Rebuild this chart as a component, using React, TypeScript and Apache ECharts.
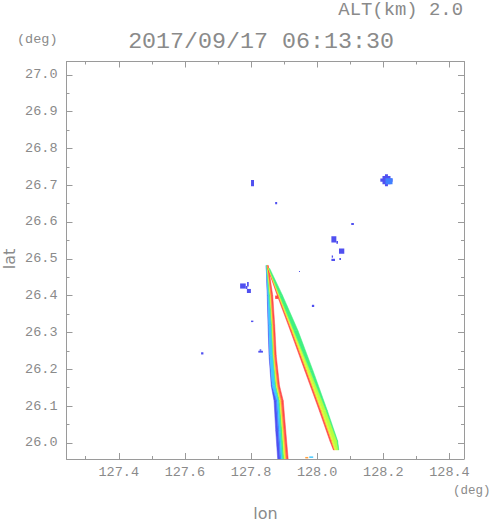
import React, { useEffect, useRef } from "react";
import * as echarts from "echarts";

// ---- axes ----
const lonRange = [127.242, 128.444];
const latRange = [25.956, 27.036];
const lonTicks = [127.4, 127.6, 127.8, 128.0, 128.2, 128.4];
const lonMinorTicks = [127.3, 127.5, 127.7, 127.9, 128.1, 128.3];
const latTicks = [26.0, 26.1, 26.2, 26.3, 26.4, 26.5, 26.6, 26.7, 26.8, 26.9, 27.0];
const latMinorTicks = [26.05, 26.15, 26.25, 26.35, 26.45, 26.55, 26.65, 26.75, 26.85, 26.95];

// ---- texts ----
const titleText = "2017/09/17 06:13:30";
const altText = "ALT(km) 2.0";
const unitText = "(deg)";
const xName = "lon";
const yName = "lat";

// ---- echo colours (weak -> strong) ----
const echoColors = ["#5050f0", "#4080ff", "#40c8ff", "#40f080", "#e8fc30", "#ffa040", "#ff4848", "#b8ff40"];

// ---- left streak: latitude levels and colour-band edges (lon) ----
// bands: blue, light blue, cyan, green, yellow, orange, red
const leftBandColors = [0, 1, 2, 3, 4, 5, 6];
const leftLats = [26.482, 26.4, 26.319, 26.237, 26.155, 26.114, 26.033, 25.953];
const leftEdges = [
  [127.8459, 127.8459, 127.8459, 127.8469, 127.8484, 127.8496, 127.8508, 127.852],
  [127.849, 127.8505, 127.8505, 127.8544, 127.8575, 127.8596, 127.8617, 127.8656],
  [127.8514, 127.8535, 127.8535, 127.8611, 127.8635, 127.8656, 127.8681, 127.8717],
  [127.8544, 127.8565, 127.8565, 127.8656, 127.8678, 127.8696, 127.8726, 127.8762],
  [127.8611, 127.8641, 127.8641, 127.8732, 127.8762, 127.8793, 127.8823, 127.8862],
  [127.8696, 127.876, 127.8793, 127.8838, 127.8868, 127.8899, 127.8929, 127.8975],
  [127.8747, 127.882, 127.8853, 127.8899, 127.8944, 127.8975, 127.9005, 127.905],
  [127.8808, 127.888, 127.8914, 127.8959, 127.9005, 127.905, 127.9081, 127.9126],
];

// ---- right streak ----
// bands: red, orange, yellow, yellow-green, green
const rightBandColors = [6, 5, 4, 7, 3];
const rightLats = [26.4739, 26.4003, 26.3049, 26.1959, 26.087, 26.0052, 25.9807];
const rightEdges = [
  [127.8505, 127.852, 127.8529, 127.8538, 127.8544, 127.8565],
  [127.8793, 127.8823, 127.8838, 127.8859, 127.8868, 127.8955],
  [127.9187, 127.9226, 127.9247, 127.9278, 127.9293, 127.942],
  [127.9626, 127.9672, 127.9696, 127.9732, 127.979, 127.9875],
  [128.0065, 128.0111, 128.0135, 128.0172, 128.027, 128.031],
  [128.0384, 128.0429, 128.0453, 128.049, 128.06, 128.062],
  [128.049, 128.052, 128.0535, 128.0566, 128.064, 128.0655],
];

// ---- isolated echo cells: [lonMin, lonMax, latMin, latMax, colourIndex] ----
const echoCells = [
  [127.8, 127.809, 26.697, 26.714, 0],
  [127.873, 127.879, 26.648, 26.654, 0],
  [127.945, 127.948, 26.464, 26.467, 0],
  [127.767, 127.784, 26.419, 26.433, 0],
  [127.784, 127.789, 26.418, 26.426, 0],
  [127.7875, 127.7996, 26.407, 26.418, 0],
  [127.788, 127.793, 26.425, 26.437, 0],
  [127.984, 127.991, 26.369, 26.375, 0],
  [127.8, 127.807, 26.328, 26.332, 0],
  [127.649, 127.656, 26.24, 26.246, 0],
  [127.822, 127.836, 26.245, 26.25, 0],
  [127.826, 127.831, 26.25, 26.254, 0],
  [128.1975, 128.2217, 26.7028, 26.7246, 0],
  [128.205, 128.214, 26.697, 26.73, 0],
  [128.191, 128.228, 26.7096, 26.7178, 0],
  [128.2065, 128.2278, 26.7028, 26.7191, 1],
  [128.103, 128.111, 26.592, 26.597, 0],
  [128.043, 128.058, 26.544, 26.561, 0],
  [128.058, 128.063, 26.541, 26.548, 0],
  [128.066, 128.082, 26.514, 26.528, 0],
  [128.044, 128.048, 26.503, 26.509, 0],
  [128.043, 128.054, 26.494, 26.5, 0],
  [128.067, 128.072, 26.497, 26.502, 0],
  [127.873, 127.882, 26.391, 26.4, 6],
  [127.964, 127.973, 25.9575, 25.9616, 5],
  [127.976, 127.988, 25.959, 25.963, 2],
];

const streaks = [
  { lats: leftLats, edges: leftEdges, colors: leftBandColors },
  { lats: rightLats, edges: rightEdges, colors: rightBandColors },
];

export default function App() {
  const ref = useRef<HTMLDivElement>(null);

  useEffect(() => {
    if (!ref.current) return;
    const chart = echarts.init(ref.current, undefined, { renderer: "svg" });
    const axisColor = "#9a9a9a";
    const textColor = "#8a8a8a";
    const mono = '"Liberation Mono", "DejaVu Sans Mono", monospace';

    const labelStyle = {
      color: textColor,
      fontFamily: mono,
      fontSize: 13.5,
    };

    const makeX = (pos: string, values: number[], len: number, labels: boolean, line: boolean) => ({
      type: "value",
      position: pos,
      min: lonRange[0],
      max: lonRange[1],
      axisLine: { show: line, onZero: false, lineStyle: { color: axisColor, width: 1 } },
      axisTick: { show: true, inside: true, length: len, customValues: values, lineStyle: { color: axisColor, width: 1 } },
      axisLabel: labels
        ? { show: true, customValues: values, formatter: (v: number) => v.toFixed(1), margin: 6, ...labelStyle }
        : { show: false },
      splitLine: { show: false },
    });
    const makeY = (pos: string, values: number[], len: number, labels: boolean, line: boolean) => ({
      type: "value",
      position: pos,
      min: latRange[0],
      max: latRange[1],
      axisLine: { show: line, onZero: false, lineStyle: { color: axisColor, width: 1 } },
      axisTick: { show: true, inside: true, length: len, customValues: values, lineStyle: { color: axisColor, width: 1 } },
      axisLabel: labels
        ? { show: true, customValues: values, formatter: (v: number) => v.toFixed(1), margin: 9, ...labelStyle }
        : { show: false },
      splitLine: { show: false },
    });

    const bandItems: number[][] = [];
    streaks.forEach((s, si) => {
      for (let i = 0; i < s.edges.length - 1; i++) {
        for (let j = 0; j < s.colors.length; j++) {
          const w0 = s.edges[i][j + 1] - s.edges[i][j];
          const w1 = s.edges[i + 1][j + 1] - s.edges[i + 1][j];
          if (w0 > 1e-7 || w1 > 1e-7) bandItems.push([si, i, j]);
        }
      }
    });

    chart.setOption({
      animation: false,
      backgroundColor: "#ffffff",
      grid: { left: 66.5, top: 61.5, right: 27, bottom: 62, containLabel: false },
      xAxis: [
        makeX("bottom", lonTicks, 6, true, true),
        makeX("bottom", lonMinorTicks, 3, false, false),
        makeX("top", lonTicks, 6, false, true),
        makeX("top", lonMinorTicks, 3, false, false),
      ],
      yAxis: [
        makeY("left", latTicks, 6, true, true),
        makeY("left", latMinorTicks, 3, false, false),
        makeY("right", latTicks, 6, false, true),
        makeY("right", latMinorTicks, 3, false, false),
      ],
      series: [
        {
          type: "custom",
          name: "streaks",
          coordinateSystem: "cartesian2d",
          xAxisIndex: 0,
          yAxisIndex: 0,
          clip: true,
          silent: true,
          data: bandItems,
          renderItem: (params: any, api: any) => {
            const s = streaks[api.value(0)];
            const i = api.value(1);
            const j = api.value(2);
            const pts = [
              [s.edges[i][j], s.lats[i]],
              [s.edges[i][j + 1], s.lats[i]],
              [s.edges[i + 1][j + 1], s.lats[i + 1]],
              [s.edges[i + 1][j], s.lats[i + 1]],
            ].map((p) => api.coord(p));
            const c = echoColors[s.colors[j]];
            return {
              type: "polygon",
              shape: { points: pts },
              style: { fill: c, stroke: c, lineWidth: 0.5 },
            };
          },
        },
        {
          type: "custom",
          name: "cells",
          coordinateSystem: "cartesian2d",
          xAxisIndex: 0,
          yAxisIndex: 0,
          clip: true,
          silent: true,
          encode: { x: [0, 1], y: [2, 3] },
          data: echoCells,
          renderItem: (params: any, api: any) => {
            const p0 = api.coord([api.value(0), api.value(3)]);
            const p1 = api.coord([api.value(1), api.value(2)]);
            const c = echoColors[api.value(4)];
            return {
              type: "rect",
              shape: { x: p0[0], y: p0[1], width: p1[0] - p0[0], height: p1[1] - p0[1] },
              style: { fill: c },
            };
          },
        },
      ],
      graphic: [
        {
          type: "text",
          x: 261,
          y: 42,
          scaleX: 1.06,
          style: { text: titleText, font: `22px ${mono}`, fill: textColor, align: "center", verticalAlign: "middle", textAlign: "center", textVerticalAlign: "middle" },
        },
        {
          type: "text",
          x: 463,
          y: 11,
          scaleX: 1.05,
          style: { text: altText, font: `18px ${mono}`, fill: textColor, align: "right", verticalAlign: "middle", textAlign: "right", textVerticalAlign: "middle" },
        },
        {
          type: "text",
          x: 17,
          y: 39,
          style: { text: unitText, font: `13.5px ${mono}`, fill: textColor, align: "left", verticalAlign: "middle", textAlign: "left", textVerticalAlign: "middle" },
        },
        {
          type: "text",
          x: 453,
          y: 491,
          style: { text: unitText, font: `12.5px ${mono}`, fill: textColor, align: "left", verticalAlign: "middle", textAlign: "left", textVerticalAlign: "middle" },
        },
        {
          type: "text",
          x: 265.5,
          y: 513,
          style: { text: xName, font: `16px "DejaVu Sans", sans-serif`, fill: textColor, align: "center", verticalAlign: "middle", textAlign: "center", textVerticalAlign: "middle" },
        },
        {
          type: "text",
          x: 9,
          y: 259,
          rotation: Math.PI / 2,
          style: { text: yName, font: `16px "DejaVu Sans", sans-serif`, fill: textColor, align: "center", verticalAlign: "middle", textAlign: "center", textVerticalAlign: "middle" },
        },
      ],
    });

    return () => chart.dispose();
  }, []);

  return (
    <div
      ref={ref}
      style={{ position: "fixed", left: 0, top: 0, width: 491, height: 521, background: "#fff" }}
    />
  );
}
